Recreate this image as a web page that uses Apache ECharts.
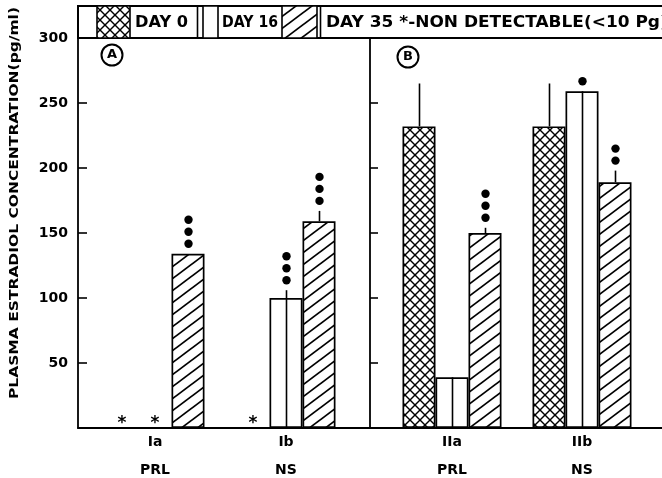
<!DOCTYPE html>
<html>
<head>
<meta charset="utf-8">
<script src="https://cdn.jsdelivr.net/npm/echarts@6/dist/echarts.min.js"></script>
<style>
  html, body { margin: 0; padding: 0; background: #fff; }
  #chart { width: 662px; height: 478px; }
</style>
</head>
<body>
<div id="chart"></div>
<script>
// ---------------- DATA ----------------
const groups = ['Ia', 'Ib', 'IIa', 'IIb'];
const treatments = ['PRL', 'NS', 'PRL', 'NS'];
const dayLabels = ['DAY 0', 'DAY 16', 'DAY 35'];
const noteLabel = '*-NON DETECTABLE(<10 Pg)';
const panelLabels = ['A', 'B'];
const yTicks = [0, 50, 100, 150, 200, 250, 300];
// null = non detectable (*)
const day0 = [null, null, 232, 232];
const day16 = [null, 100, 39, 259];
const day35 = [134, 159, 150, 189];
const err0 = [0, 0, 33, 33];
const err16 = [0, 6, 0, 0];
const err35 = [0, 8, 4, 9];
const sig0 = [0, 0, 0, 0];
const sig16 = [0, 3, 0, 1];
const sig35 = [3, 3, 3, 2];
const yAxisTitle = 'PLASMA ESTRADIOL CONCENTRATION(pg/ml)';

// ---------------- PATTERNS ----------------
function makeHatch() {
  const w = 16, h = 12;
  const c = document.createElement('canvas'); c.width = w; c.height = h;
  const g = c.getContext('2d');
  g.fillStyle = '#fff'; g.fillRect(0, 0, w, h);
  g.strokeStyle = '#000'; g.lineWidth = 1.7;
  [[0, 0], [0, -h], [0, h]].forEach(([dx, dy]) => {
    g.beginPath(); g.moveTo(dx - w, dy + 2 * h); g.lineTo(dx + 2 * w, dy - h); g.stroke();
  });
  return c;
}
function makeCross() {
  const s = 10;
  const c = document.createElement('canvas'); c.width = s; c.height = s;
  const g = c.getContext('2d');
  g.fillStyle = '#fff'; g.fillRect(0, 0, s, s);
  g.strokeStyle = '#000'; g.lineWidth = 1.4;
  [-s, 0, s].forEach(d => {
    g.beginPath(); g.moveTo(d, s); g.lineTo(d + s, 0); g.stroke();
    g.beginPath(); g.moveTo(d, 0); g.lineTo(d + s, s); g.stroke();
  });
  return c;
}
const hatchPat = { type: 'pattern', image: makeHatch(), repeat: 'repeat' };
const crossPat = { type: 'pattern', image: makeCross(), repeat: 'repeat' };
const fills = [crossPat, '#fff', hatchPat];

// ---------------- HELPERS ----------------
const mctx = document.createElement('canvas').getContext('2d');
function fitScale(text, font, width) { mctx.font = font; return width / mctx.measureText(text).width; }
const FONT = '"DejaVu Sans", sans-serif';
const BAR_W = 33;

const days = [
  { vals: day0, errs: err0, sigs: sig0 },
  { vals: day16, errs: err16, sigs: sig16 },
  { vals: day35, errs: err35, sigs: sig35 }
];
const panels = [[0, 1], [2, 3]];

const series = [];
panels.forEach((idxs, p) => {
  days.forEach((d, di) => {
    series.push({
      type: 'bar', xAxisIndex: p + 1, yAxisIndex: p + 1,
      barWidth: BAR_W, barGap: '0%', animation: false,
      itemStyle: { color: fills[di], borderColor: '#000', borderWidth: 1.7 },
      data: idxs.map(i => d.vals[i] == null ? {
        value: 0, itemStyle: { borderWidth: 0, color: 'transparent' },
        label: { show: true, position: 'top', formatter: '*', distance: -4,
          fontSize: 17, fontWeight: 'bold', color: '#000', fontFamily: FONT }
      } : d.vals[i]),
      z: 2
    });
    const offset = (di - 1) * BAR_W;
    const through = di === 1;
    series.push({
      type: 'custom', xAxisIndex: p + 1, yAxisIndex: p + 1, animation: false, z: 5,
      data: idxs.map((i, k) => [k, d.vals[i] == null ? 0 : d.vals[i], d.errs[i], d.sigs[i], d.vals[i] == null ? 1 : 0]),
      renderItem: function (params, api) {
        const cat = api.value(0), v = api.value(1), e = api.value(2), n = api.value(3), nd = api.value(4);
        if (nd) return { type: 'group', children: [] };
        const base = api.coord([cat, 0]);
        const x = Math.round(base[0] + offset) + 0.5;
        const yv = api.coord([cat, v])[1];
        const yt = api.coord([cat, v + e])[1];
        const children = [];
        const y0 = through ? base[1] : yv;
        if (e > 0 || through) {
          children.push({ type: 'line', shape: { x1: x, y1: y0, x2: x, y2: yt },
            style: { stroke: '#000', lineWidth: 1.6 } });
        }
        for (let k = 0; k < n; k++) {
          children.push({ type: 'circle', shape: { cx: x, cy: yt - 10 - 12 * k, r: 4.2 },
            style: { fill: '#000' } });
        }
        return { type: 'group', children };
      }
    });
  });
});

// ---------------- GRAPHIC (legend box, panel letters, y title) ----------------
const LFONT = 'bold 15px ' + FONT;
const longText = dayLabels[2] + ' ' + noteLabel;
const lScale = fitScale(longText.replace(')', ''), LFONT, 334);
const tStyle = (t, f) => ({ text: t, font: f, fill: '#000', textAlign: 'left', textVerticalAlign: 'middle', align: 'left', verticalAlign: 'middle' });
const graphic = [
  { type: 'rect', shape: { x: 78, y: 6, width: 620, height: 32 }, style: { fill: '#fff', stroke: '#000', lineWidth: 2 }, z: 10 },
  { type: 'rect', shape: { x: 97, y: 6, width: 33, height: 32 }, style: { fill: crossPat, stroke: '#000', lineWidth: 1.6 }, z: 11 },
  { type: 'line', shape: { x1: 197.5, y1: 6, x2: 197.5, y2: 38 }, style: { stroke: '#000', lineWidth: 1.6 }, z: 11 },
  { type: 'rect', shape: { x: 203, y: 6, width: 15, height: 32 }, style: { fill: '#fff', stroke: '#000', lineWidth: 1.6 }, z: 11 },
  { type: 'rect', shape: { x: 282, y: 6, width: 35, height: 32 }, style: { fill: hatchPat, stroke: '#000', lineWidth: 1.6 }, z: 11 },
  { type: 'line', shape: { x1: 320.5, y1: 6, x2: 320.5, y2: 38 }, style: { stroke: '#000', lineWidth: 1.6 }, z: 11 },
  { type: 'text', x: 135, y: 23, scaleX: fitScale(dayLabels[0], LFONT, 53), z: 12, style: tStyle(dayLabels[0], LFONT) },
  { type: 'text', x: 222, y: 23, scaleX: fitScale(dayLabels[1], LFONT, 56), z: 12, style: tStyle(dayLabels[1], LFONT) },
  { type: 'text', x: 326, y: 23, scaleX: lScale, z: 12, style: tStyle(longText, LFONT) },
  // panel letters
  { type: 'circle', shape: { cx: 112, cy: 55, r: 10.5 }, style: { fill: 'none', stroke: '#000', lineWidth: 2 }, z: 12 },
  { type: 'text', x: 112, y: 55, z: 12, style: { text: panelLabels[0], font: 'bold 13px ' + FONT, fill: '#000', textAlign: 'center', textVerticalAlign: 'middle', align: 'center', verticalAlign: 'middle' } },
  { type: 'circle', shape: { cx: 408, cy: 57, r: 10.5 }, style: { fill: 'none', stroke: '#000', lineWidth: 2 }, z: 12 },
  { type: 'text', x: 408, y: 57, z: 12, style: { text: panelLabels[1], font: 'bold 13px ' + FONT, fill: '#000', textAlign: 'center', textVerticalAlign: 'middle', align: 'center', verticalAlign: 'middle' } },
  // y axis title
  { type: 'text', x: 15, y: 203, rotation: Math.PI / 2, scaleX: fitScale(yAxisTitle, 'bold 13px ' + FONT, 392), z: 12,
    style: { text: yAxisTitle, font: 'bold 13px ' + FONT, fill: '#000', textAlign: 'center', textVerticalAlign: 'middle', align: 'center', verticalAlign: 'middle' } }
];

const yMin = yTicks[0], yMax = yTicks[yTicks.length - 1], yInt = yTicks[1] - yTicks[0];
const hiddenY = { type: 'value', min: yMin, max: yMax, interval: yInt, show: false };

const option = {
  backgroundColor: '#fff',
  animation: false,
  grid: [
    { left: 78, right: 0, top: 38, bottom: 50 },
    { left: 89.5, width: 262, top: 38, bottom: 50 },
    { left: 387, width: 260, top: 38, bottom: 50 }
  ],
  xAxis: [
    { type: 'value', gridIndex: 0, min: 0, max: 1, axisLabel: { show: false }, axisTick: { show: false }, splitLine: { show: false },
      axisLine: { show: true, onZero: false, lineStyle: { color: '#000', width: 1.8 } } },
    ...panels.map((idxs, p) => ({
      type: 'category', gridIndex: p + 1, data: idxs.map(i => groups[i]),
      axisLine: { show: false }, axisTick: { show: false },
      axisLabel: {
        margin: 5, interval: 0,
        formatter: (v) => '{g|' + v + '}\n{t|' + treatments[groups.indexOf(v)] + '}',
        rich: {
          g: { fontSize: 14, fontWeight: 'bold', fontFamily: FONT, color: '#000', lineHeight: 18 },
          t: { fontSize: 14, fontWeight: 'bold', fontFamily: FONT, color: '#000', lineHeight: 38 }
        }
      }
    }))
  ],
  yAxis: [
    { type: 'value', gridIndex: 0, min: yMin, max: yMax, interval: yInt,
      axisLine: { show: true, lineStyle: { color: '#000', width: 1.8 } },
      axisTick: { show: true, inside: true, length: 9, lineStyle: { color: '#000', width: 1.6 } },
      splitLine: { show: false },
      axisLabel: { margin: 10, fontSize: 14, fontWeight: 'bold', fontFamily: FONT, color: '#000',
        formatter: v => v === 0 ? '' : String(v) } },
    Object.assign({}, hiddenY, { gridIndex: 1 }),
    { type: 'value', gridIndex: 2, min: yMin, max: yMax, interval: yInt, position: 'left', offset: 17,
      axisLine: { show: true, lineStyle: { color: '#000', width: 1.8 } },
      axisTick: { show: true, inside: true, length: 8, lineStyle: { color: '#000', width: 1.6 } },
      axisLabel: { show: false }, splitLine: { show: false } }
  ],
  graphic: graphic,
  series: series
};

const chart = echarts.init(document.getElementById('chart'), null, { renderer: 'canvas' });
chart.setOption(option);
</script>
</body>
</html>
